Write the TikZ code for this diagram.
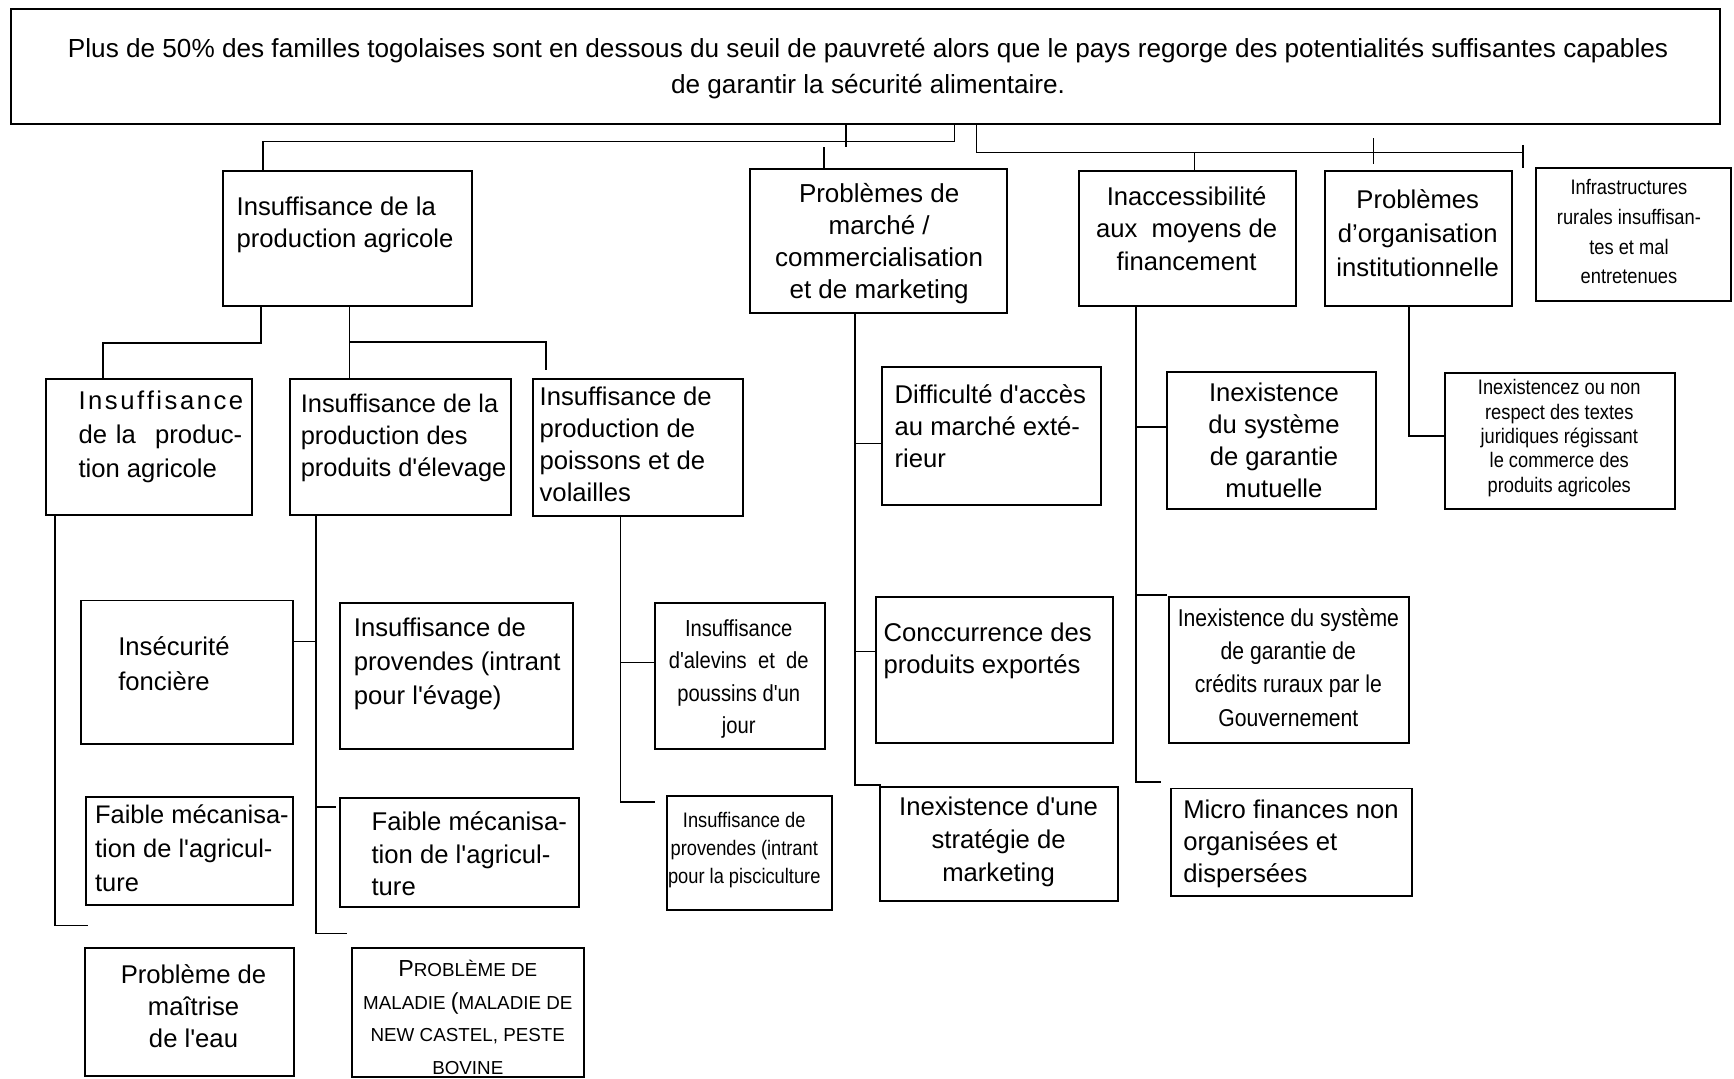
\documentclass[tikz,border=0pt]{standalone}
\usepackage{fontspec}
\setmainfont{Liberation Sans}[Ligatures=TeXOff]
\newfontfamily\nar{Liberation Sans}[FakeStretch=0.87,Ligatures=TeXOff]
\tikzset{
  box/.style={draw, line width=1.8pt, inner sep=0pt, outer sep=0pt},
  txt/.style={inner sep=0pt, outer sep=0pt},
  wire/.style={line width=1.5pt},
}
\newcommand{\mkbox}[5]{\node[box, minimum width={#4-#2}, minimum height={#5-#3}] (#1) at ({(#2+#4)/2},{(#3+#5)/2}) {};}
\newcommand{\fs}[2]{\fontsize{#1}{#2}\selectfont}
\newcommand{\smc}[1]{{\fontsize{17}{29.5}\selectfont #1}}
\begin{document}
\begin{tikzpicture}[x=1pt,y={(0pt,-1pt)}]
\useasboundingbox (0,0) rectangle (1568,975);
% boxes
\mkbox{top}{10}{8}{1555}{112}
\mkbox{A}{202}{155}{427}{277}
\mkbox{B}{678}{153}{911}{283}
\mkbox{C}{976}{155}{1172}{277}
\mkbox{D}{1198}{155}{1367}{277}
\mkbox{E}{1389}{152}{1565}{272}
\mkbox{A1}{42}{343}{228}{466}
\mkbox{A2}{262}{343}{462}{466}
\mkbox{A3}{482}{343}{672}{467}
\mkbox{L1}{73}{543}{265}{673}
\mkbox{L2}{78}{721}{265}{818}
\mkbox{L3}{77}{857}{266}{973}
\mkbox{M1}{307}{545}{518}{677}
\mkbox{M2}{307}{722}{524}{820}
\mkbox{M3}{318}{857}{528}{974}
\mkbox{P1}{592}{545}{746}{677}
\mkbox{P2}{603}{720}{752}{823}
\mkbox{B1}{798}{332}{996}{457}
\mkbox{B2}{792}{540}{1006}{672}
\mkbox{B3}{796}{712}{1011}{815}
\mkbox{C1}{1055}{336}{1244}{460}
\mkbox{C2}{1057}{540}{1274}{672}
\mkbox{C3}{1059}{713}{1277}{810}
\mkbox{D1}{1307}{337}{1515}{460}
% texts
\node[txt,align=center,font=\fs{23.65}{32}] (top-t) at (785,62) {Plus de 50\% des familles togolaises sont en dessous du seuil de pauvreté alors que le pays regorge des potentialités suffisantes capables\\de garantir la sécurité alimentaire.};
\node[txt,align=left,anchor=west,font=\fs{23.2}{29}] (A-t) at (214,203.5) {Insuffisance de la\\production agricole};
\node[txt,align=center,font=\fs{23.5}{29}] (B-t) at (795,220.5) {Problèmes de\\marché /\\commercialisation\\et de marketing};
\node[txt,align=center,font=\fs{23.2}{29.5}] (C-t) at (1073,206.5) {Inaccessibilité\\aux\ \ moyens de\\financement};
\node[txt,align=center,font=\fs{23.2}{31}] (D-t) at (1282,211) {Problèmes\\d’organisation\\institutionnelle};
\node[txt,align=center,font=\nar\fs{19}{27}] (E-t) at (1473,209.5) {Infrastructures\\rurales insuffisan-\\tes et mal\\entretenues};
\node[txt,align=left,anchor=west,font=\fs{23.2}{31}] (A1-t) at (71,395) {\hbox to 149pt{I\hfil n\hfil s\hfil u\hfil f\hfil f\hfil i\hfil s\hfil a\hfil n\hfil c\hfil e}\\\hbox to 148pt{de\hspace{8pt}la\hfill produc-}\\tion agricole};
\node[txt,align=left,anchor=west,font=\fs{23}{29}] (A2-t) at (272,396) {Insuffisance de la\\production des\\produits d'élevage};
\node[txt,align=left,anchor=west,font=\fs{23.2}{29}] (A3-t) at (488,401.5) {Insuffisance de\\production de\\poissons et de\\volailles};
\node[txt,align=left,anchor=west,font=\fs{23.2}{32}] (L1-t) at (107,600) {Insécurité\\foncière};
\node[txt,align=left,anchor=west,font=\fs{23}{31}] (L2-t) at (86,767) {Faible mécanisa-\\tion de l'agricul-\\ture};
\node[txt,align=center,font=\fs{23.2}{29}] (L3-t) at (175,910) {Problème de\\maîtrise\\de l'eau};
\node[txt,align=left,anchor=west,font=\fs{23.2}{30.5}] (M1-t) at (320,600.5) {Insuffisance de\\provendes (intrant\\pour l'évage)};
\node[txt,align=left,anchor=west,font=\fs{23.2}{29}] (M2-t) at (336,772) {Faible mécanisa-\\tion de l'agricul-\\ture};
\node[txt,align=center,font=\fs{17}{29.5}] (M3-t) at (423,920) {{\fs{21}{29.5}P}\smc{ROBLÈME DE}\\\smc{MALADIE {\fs{21}{29.5}(}MALADIE DE}\\\smc{NEW CASTEL, PESTE}\\\smc{BOVINE}};
\node[txt,align=center,font=\nar\fs{21}{29.3}] (P1-t) at (668,614) {Insuffisance\\d'alevins\ \ et\ \ de\\poussins d'un\\jour};
\node[txt,align=center,font=\nar\fs{19}{25.5}] (P2-t) at (673,768.5) {Insuffisance de\\provendes (intrant\\pour la pisciculture};
\node[txt,align=left,anchor=west,font=\fs{23.2}{29}] (B1-t) at (809,385) {Difficulté d'accès\\au marché exté-\\rieur};
\node[txt,align=left,anchor=west,font=\fs{23.2}{29}] (B2-t) at (799,588.5) {Conccurrence des\\produits exportés};
\node[txt,align=center,font=\fs{23.2}{30}] (B3-t) at (903,761) {Inexistence d'une\\stratégie de\\marketing};
\node[txt,align=center,font=\fs{23.2}{29}] (C1-t) at (1152,398.5) {Inexistence\\du système\\de garantie\\mutuelle};
\node[txt,align=center,font=\nar\fs{22}{30}] (C2-t) at (1165,603.5) {Inexistence du système\\de garantie de\\crédits ruraux par le\\Gouvernement};
\node[txt,align=left,anchor=west,font=\fs{23.2}{29}] (C3-t) at (1070,763) {Micro finances non\\organisées et\\dispersées};
\node[txt,align=center,font=\nar\fs{19}{22}] (D1-t) at (1410,396) {Inexistencez ou non\\respect des textes\\juridiques régissant\\le commerce des\\produits agricoles};
% connectors from top box
\coordinate (jA1) at (863,128); \coordinate (jA2) at (238,128);
\draw[wire] (top.south -| jA1) -- (jA1) -- (jA2) -- (A.north -| jA2);
\coordinate (kB1) at (765,133); \coordinate (kB2) at (745,133);
\draw[wire] (top.south -| kB1) -- (kB1);
\draw[wire] (kB2) -- (B.north -| kB2);
\coordinate (jR1) at (883,138); \coordinate (jR2) at (1377,138);
\draw[wire] (top.south -| jR1) -- (jR1) -- (jR2);
\coordinate (jR2a) at (1377,131); \coordinate (jR2b) at (1377,152);
\draw[wire] (jR2a) -- (jR2b);
\coordinate (jC) at (1080,138);
\draw[wire] (jC) -- (C.north -| jC);
\coordinate (tD1) at (1242,125); \coordinate (tD2) at (1242,148);
\draw[wire] (tD1) -- (tD2);
% A branch
\coordinate (a1) at (236,310); \coordinate (a2) at (93,310);
\draw[wire] (A.south -| a1) -- (a1) -- (a2) -- (A1.north -| a2);
\coordinate (a3) at (316,309); \coordinate (a4) at (494,309); \coordinate (a5) at (494,335);
\draw[wire] (A.south -| a3) -- (A2.north -| a3);
\draw[wire] (a3) -- (a4) -- (a5);
% A1 column
\coordinate (b1) at (50,837); \coordinate (b2) at (80,837);
\draw[wire] (A1.south -| b1) -- (b1) -- (b2);
% A2 column
\coordinate (c1) at (286,844); \coordinate (c2) at (314,844);
\draw[wire] (A2.south -| c1) -- (c1) -- (c2);
\coordinate (c3) at (286,580); \draw[wire] (L1.east |- c3) -- (c3);
\coordinate (c4) at (286,730); \coordinate (c5) at (304,730); \draw[wire] (c4) -- (c5);
% A3 column
\coordinate (d1) at (561,725); \coordinate (d2) at (592,725);
\draw[wire] (A3.south -| d1) -- (d1) -- (d2);
\coordinate (d3) at (561,599); \draw[wire] (d3) -- (P1.west |- d3);
% B column
\coordinate (e1) at (773,710); \coordinate (e2) at (797,710);
\draw[wire] (B.south -| e1) -- (e1) -- (e2);
\coordinate (e3) at (773,401); \draw[wire] (e3) -- (B1.west |- e3);
\coordinate (e4) at (773,589); \draw[wire] (e4) -- (B2.west |- e4);
% C column
\coordinate (f1) at (1027,707); \coordinate (f2) at (1050,707);
\draw[wire] (C.south -| f1) -- (f1) -- (f2);
\coordinate (f3) at (1027,386); \draw[wire] (f3) -- (C1.west |- f3);
\coordinate (f4) at (1027,538); \coordinate (f5) at (1055,538); \draw[wire] (f4) -- (f5);
% D column
\coordinate (g1) at (1274,394);
\draw[wire] (D.south -| g1) -- (g1) -- (D1.west |- g1);
\end{tikzpicture}
\end{document}
